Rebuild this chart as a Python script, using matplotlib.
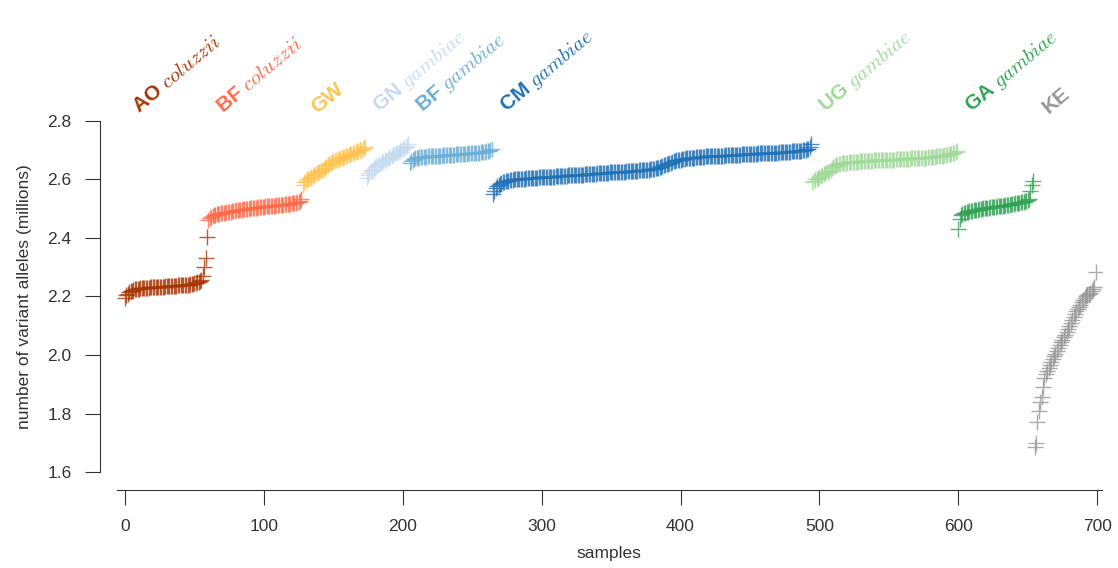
import matplotlib
matplotlib.use("Agg")
import matplotlib.pyplot as plt
import numpy as np

plt.rcParams['font.family'] = ['Liberation Sans', 'DejaVu Sans']
plt.rcParams['mathtext.fontset'] = 'cm'

# population labels, species and colours --------------------------------------
pop_codes = ['AO', 'BF', 'GW', 'GN', 'BF', 'CM', 'UG', 'GA', 'KE']
pop_species = ['coluzzii', 'coluzzii', '', 'gambiae', 'gambiae', 'gambiae', 'gambiae', 'gambiae', '']
pop_colors = ['#a63603', '#fb6a4a', '#fec44f', '#c6dbef', '#6baed6', '#2171b5', '#a1d99b', '#31a354', '#969696']

# number of variant alleles (millions) per sample, sorted within population ----
ao = [2.195, 2.205, 2.210, 2.215, 2.218, 2.220, 2.222, 2.224, 2.225, 2.226,
      2.227, 2.228, 2.228, 2.229, 2.229, 2.230, 2.230, 2.230, 2.231, 2.231,
      2.232, 2.232, 2.232, 2.233, 2.233, 2.233, 2.234, 2.234, 2.234, 2.235,
      2.235, 2.235, 2.236, 2.236, 2.236, 2.237, 2.237, 2.237, 2.238, 2.238,
      2.238, 2.239, 2.239, 2.240, 2.240, 2.241, 2.241, 2.242, 2.243, 2.244,
      2.245, 2.246, 2.248, 2.250, 2.252, 2.256, 2.270, 2.300, 2.330, 2.405]
bf_col = [2.460, 2.468, 2.473, 2.476, 2.478, 2.480, 2.481, 2.482, 2.483, 2.484,
          2.485, 2.486, 2.487, 2.488, 2.489, 2.490, 2.490, 2.491, 2.492, 2.493,
          2.494, 2.495, 2.495, 2.496, 2.497, 2.498, 2.498, 2.499, 2.500, 2.500,
          2.501, 2.502, 2.502, 2.503, 2.504, 2.504, 2.505, 2.506, 2.506, 2.507,
          2.507, 2.508, 2.508, 2.509, 2.509, 2.510, 2.510, 2.511, 2.511, 2.512,
          2.512, 2.513, 2.513, 2.514, 2.514, 2.515, 2.515, 2.516, 2.517, 2.517,
          2.518, 2.519, 2.520, 2.521, 2.522, 2.524, 2.527, 2.532]
gw = [2.580, 2.590, 2.595, 2.600, 2.603, 2.606, 2.609, 2.612, 2.615, 2.618,
      2.621, 2.624, 2.627, 2.630, 2.633, 2.636, 2.640, 2.645, 2.650, 2.653,
      2.656, 2.659, 2.662, 2.664, 2.666, 2.668, 2.670, 2.672, 2.674, 2.676,
      2.678, 2.680, 2.682, 2.684, 2.686, 2.688, 2.690, 2.692, 2.694, 2.696,
      2.698, 2.700, 2.702, 2.705, 2.708, 2.712]
gn = [2.605, 2.615, 2.622, 2.628, 2.633, 2.637, 2.641, 2.645, 2.649, 2.652,
      2.656, 2.659, 2.662, 2.665, 2.668, 2.671, 2.674, 2.677, 2.680, 2.683,
      2.686, 2.689, 2.692, 2.695, 2.698, 2.701, 2.704, 2.707, 2.710, 2.714, 2.720]
bf_gam = [2.655, 2.664, 2.668, 2.671, 2.673, 2.674, 2.675, 2.676, 2.676, 2.677,
          2.677, 2.678, 2.678, 2.679, 2.679, 2.680, 2.680, 2.680, 2.681, 2.681,
          2.681, 2.682, 2.682, 2.682, 2.683, 2.683, 2.683, 2.684, 2.684, 2.684,
          2.685, 2.685, 2.685, 2.686, 2.686, 2.686, 2.687, 2.687, 2.687, 2.688,
          2.688, 2.688, 2.689, 2.689, 2.690, 2.690, 2.690, 2.691, 2.691, 2.692,
          2.692, 2.693, 2.693, 2.694, 2.695, 2.696, 2.697, 2.698, 2.700, 2.703]
cm = [2.552, 2.562, 2.571, 2.577, 2.582, 2.585, 2.588, 2.590, 2.592, 2.594,
      2.595, 2.596, 2.597, 2.598, 2.599, 2.600, 2.600, 2.601, 2.601, 2.602,
      2.602, 2.603, 2.603, 2.603, 2.604, 2.604, 2.604, 2.605, 2.605, 2.605,
      2.606, 2.606, 2.606, 2.607, 2.607, 2.607, 2.608, 2.608, 2.608, 2.609,
      2.609, 2.609, 2.610, 2.610, 2.610, 2.611, 2.611, 2.611, 2.612, 2.612,
      2.612, 2.613, 2.613, 2.613, 2.614, 2.614, 2.614, 2.615, 2.615, 2.615,
      2.616, 2.616, 2.616, 2.617, 2.617, 2.617, 2.618, 2.618, 2.618, 2.619,
      2.619, 2.619, 2.620, 2.620, 2.620, 2.621, 2.621, 2.621, 2.622, 2.622,
      2.622, 2.623, 2.623, 2.623, 2.624, 2.624, 2.624, 2.625, 2.625, 2.625,
      2.626, 2.626, 2.626, 2.627, 2.627, 2.627, 2.628, 2.628, 2.628, 2.629,
      2.629, 2.629, 2.630, 2.630, 2.630, 2.631, 2.631, 2.632, 2.632, 2.633,
      2.633, 2.634, 2.634, 2.635, 2.635, 2.636, 2.637, 2.638, 2.639, 2.640,
      2.642, 2.644, 2.646, 2.648, 2.650, 2.652, 2.654, 2.656, 2.658, 2.660,
      2.662, 2.664, 2.665, 2.666, 2.667, 2.668, 2.669, 2.670, 2.671, 2.672,
      2.673, 2.673, 2.674, 2.674, 2.675, 2.675, 2.676, 2.676, 2.677, 2.677,
      2.678, 2.678, 2.678, 2.679, 2.679, 2.679, 2.680, 2.680, 2.680, 2.681,
      2.681, 2.681, 2.681, 2.682, 2.682, 2.682, 2.682, 2.683, 2.683, 2.683,
      2.683, 2.684, 2.684, 2.684, 2.684, 2.685, 2.685, 2.685, 2.685, 2.686,
      2.686, 2.686, 2.686, 2.687, 2.687, 2.687, 2.687, 2.688, 2.688, 2.688,
      2.688, 2.689, 2.689, 2.689, 2.689, 2.690, 2.690, 2.690, 2.690, 2.691,
      2.691, 2.691, 2.691, 2.692, 2.692, 2.692, 2.693, 2.693, 2.693, 2.694,
      2.694, 2.694, 2.695, 2.695, 2.695, 2.696, 2.696, 2.697, 2.697, 2.698,
      2.698, 2.699, 2.699, 2.700, 2.701, 2.702, 2.703, 2.705, 2.710, 2.720]
ug = [2.590, 2.596, 2.600, 2.603, 2.606, 2.609, 2.612, 2.615, 2.618, 2.621,
      2.624, 2.627, 2.630, 2.634, 2.638, 2.642, 2.646, 2.649, 2.651, 2.653,
      2.654, 2.655, 2.656, 2.657, 2.658, 2.658, 2.659, 2.659, 2.660, 2.660,
      2.660, 2.661, 2.661, 2.661, 2.662, 2.662, 2.662, 2.663, 2.663, 2.663,
      2.664, 2.664, 2.664, 2.664, 2.665, 2.665, 2.665, 2.665, 2.666, 2.666,
      2.666, 2.666, 2.667, 2.667, 2.667, 2.667, 2.668, 2.668, 2.668, 2.668,
      2.669, 2.669, 2.669, 2.669, 2.670, 2.670, 2.670, 2.670, 2.671, 2.671,
      2.671, 2.672, 2.672, 2.672, 2.673, 2.673, 2.673, 2.674, 2.674, 2.674,
      2.675, 2.675, 2.675, 2.676, 2.676, 2.677, 2.677, 2.678, 2.678, 2.679,
      2.679, 2.680, 2.680, 2.681, 2.682, 2.683, 2.684, 2.685, 2.686, 2.687,
      2.688, 2.689, 2.691, 2.694, 2.698]
ga = [2.430, 2.465, 2.478, 2.482, 2.485, 2.487, 2.489, 2.490, 2.491, 2.492,
      2.493, 2.494, 2.495, 2.496, 2.497, 2.498, 2.499, 2.500, 2.501, 2.502,
      2.503, 2.503, 2.504, 2.505, 2.505, 2.506, 2.507, 2.507, 2.508, 2.509,
      2.509, 2.510, 2.511, 2.511, 2.512, 2.513, 2.513, 2.514, 2.515, 2.516,
      2.517, 2.518, 2.519, 2.520, 2.521, 2.522, 2.523, 2.524, 2.525, 2.527,
      2.530, 2.535, 2.560, 2.580, 2.595]
ke = [1.685, 1.700, 1.770, 1.810, 1.840, 1.855, 1.890, 1.920, 1.935, 1.945,
      1.955, 1.965, 1.975, 1.985, 1.995, 2.005, 2.015, 2.025, 2.035, 2.045,
      2.050, 2.060, 2.070, 2.080, 2.090, 2.100, 2.110, 2.120, 2.130, 2.140,
      2.150, 2.158, 2.165, 2.172, 2.180, 2.188, 2.195, 2.200, 2.205, 2.210,
      2.213, 2.218, 2.225, 2.232, 2.285]

pop_values = [ao, bf_col, gw, gn, bf_gam, cm, ug, ga, ke]

yticks = [1.6, 1.8, 2.0, 2.2, 2.4, 2.6, 2.8]
xticks = [0, 100, 200, 300, 400, 500, 600, 700]

# plot ------------------------------------------------------------------------
fig = plt.figure(figsize=(11.18, 5.68), dpi=100)
ax = fig.add_axes([0.1044, 0.169, 0.8813, 0.618])

start = 0
for code, species, color, values in zip(pop_codes, pop_species, pop_colors, pop_values):
    x = np.arange(start, start + len(values))
    ax.plot(x, values, linestyle='none', marker='+', markersize=12, mew=1,
            color=color, alpha=0.8)
    label = code if not species else code + r' $\mathit{' + species + '}$'
    ax.text(start + 12, 2.815, label, rotation=40, rotation_mode='anchor',
            ha='left', va='bottom', fontsize=15, fontweight='bold', color=color,
            clip_on=False)
    start += len(values)

ax.set_xlim(-6, 703.5)
ax.set_ylim(1.6, 2.8)
ax.set_xticks(xticks)
ax.set_yticks(yticks)
ax.set_yticklabels([f'{t:.1f}' for t in yticks])

for side in ['top', 'right']:
    ax.spines[side].set_visible(False)
ax.spines['left'].set_position(('outward', 12))
ax.spines['bottom'].set_position(('outward', 13))
for side in ['left', 'bottom']:
    ax.spines[side].set_color('#333333')
ax.tick_params(direction='out', length=10.5, pad=10, color='#333333',
               labelcolor='#333333', labelsize=12.5)

ax.set_xlabel('samples', fontsize=12.5, color='#333333', labelpad=9)
ax.set_ylabel('number of variant alleles (millions)', fontsize=12.5,
              color='#333333', labelpad=11)

fig.savefig('out.png', dpi=100)
